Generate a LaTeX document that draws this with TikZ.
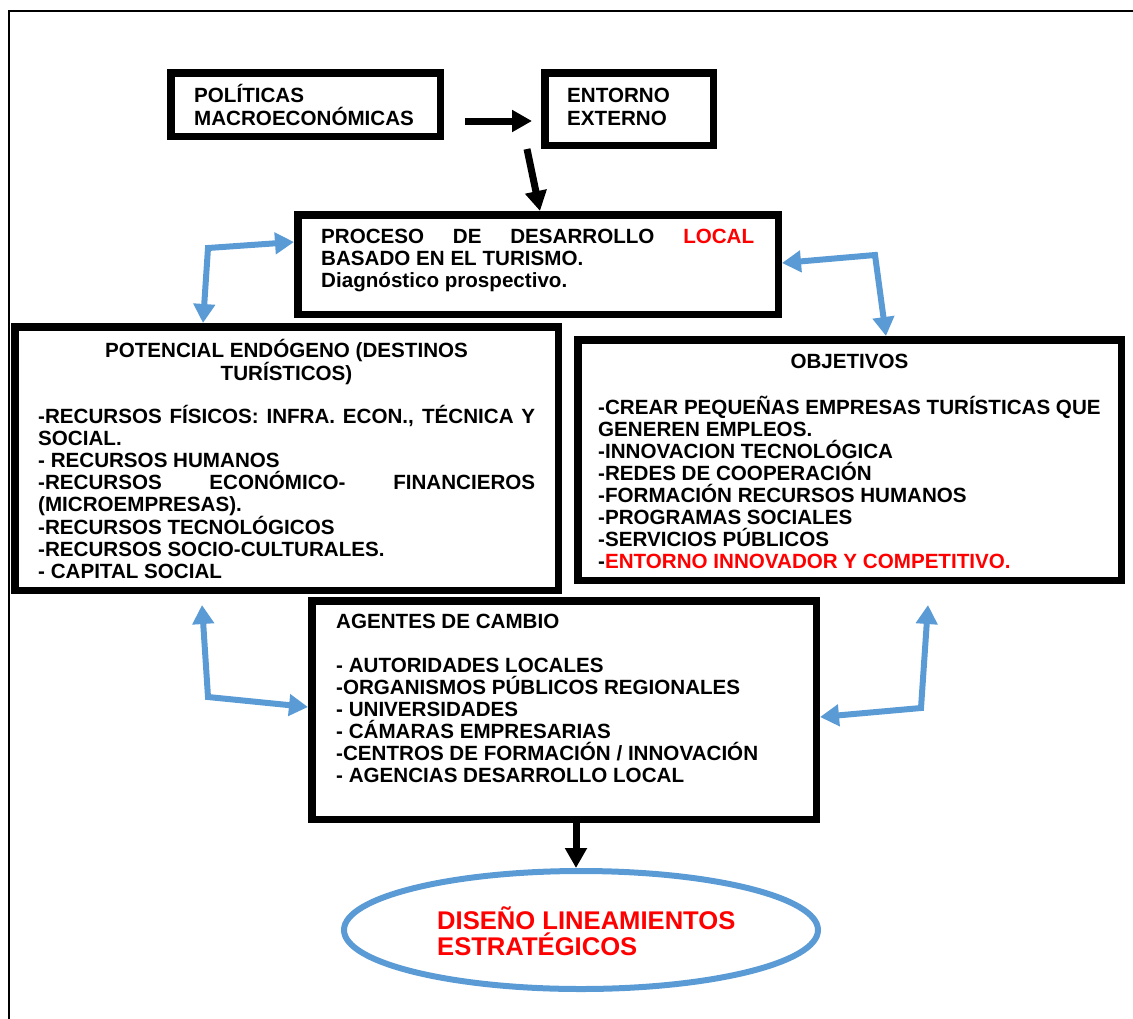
\documentclass[tikz,border=0pt]{standalone}
\usepackage{fontspec}
\setmainfont{Liberation Sans}
\usetikzlibrary{arrows.meta,shapes.geometric}
\definecolor{bblue}{HTML}{5B9BD5}
\definecolor{tred}{HTML}{FF0000}
\hyphenpenalty=10000
\exhyphenpenalty=10000
\tolerance=10000
\newcommand{\fl}{\rule{0pt}{20pt}}
\begin{document}
\begin{tikzpicture}[x=1pt,y=-1pt,
  box/.style={draw, line width=7.5pt, inner sep=0pt, anchor=north west},
  txt/.style={inner sep=0pt, anchor=north west, align=left,
    font=\bfseries\fontsize{20.6}{22}\selectfont},
  ttl/.style={inner sep=0pt, anchor=north, align=center,
    font=\bfseries\fontsize{20.6}{22}\selectfont},
  barr/.style={line width=7pt, -{Triangle[length=20pt,width=21pt]}},
  blarr/.style={draw=bblue, line width=6pt, line join=miter,
    {Triangle[length=19pt,width=21pt]}-{Triangle[length=19pt,width=21pt]}},
]
\useasboundingbox (0,0) rectangle (1133,1018);
% outer frame
\draw[line width=1.5pt] (9,1030) -- (9,11) -- (1140,11);

% boxes
\node[box, minimum width=269.5pt, minimum height=63.5pt] (pol) at (167,69) {};
\node[box, minimum width=168.5pt, minimum height=72.5pt] (ent) at (541,69) {};
\node[box, minimum width=480.5pt, minimum height=99.5pt] (pro) at (294,211) {};
\node[box, minimum width=543.5pt, minimum height=263.5pt] (pot) at (11,323) {};
\node[box, minimum width=543.5pt, minimum height=240.5pt] (obj) at (574,336) {};
\node[box, minimum width=504.5pt, minimum height=218.5pt] (age) at (308,597) {};
\node[draw=bblue, line width=6pt, ellipse, inner sep=0pt,
      minimum width=474pt, minimum height=118pt] (dis) at (581,930) {};

% texts
\node[txt, font=\bfseries\fontsize{20.6}{23}\selectfont] (tpol) at (194,82)
  {\fl POLÍTICAS\\MACROECONÓMICAS};
\node[txt, font=\bfseries\fontsize{20.6}{23}\selectfont] (tent) at (567,82)
  {\fl ENTORNO\\EXTERNO};
\node[txt, text width=433pt, align=justify] (tpro) at (321,223)
  {\fl PROCESO DE DESARROLLO {\color{tred}LOCAL}\linebreak BASADO EN EL TURISMO.\\
   Diagnóstico prospectivo.};
\node[ttl] (tpott) at (286.5,337)
  {\fl POTENCIAL ENDÓGENO (DESTINOS\\TURÍSTICOS)};
\node[txt, text width=497pt, align=justify] (tpot) at (38,403)
  {\fl -RECURSOS FÍSICOS: INFRA. ECON., TÉCNICA Y\linebreak SOCIAL.\\
   - RECURSOS HUMANOS\\
   -RECURSOS ECONÓMICO- FINANCIEROS\linebreak (MICROEMPRESAS).\\
   -RECURSOS TECNOLÓGICOS\\
   -RECURSOS SOCIO-CULTURALES.\\
   - CAPITAL SOCIAL};
\node[ttl] (tobjt) at (849.5,348) {\fl OBJETIVOS};
\node[txt] (tobj) at (598,394)
  {\fl -CREAR PEQUEÑAS EMPRESAS TURÍSTICAS QUE\\
   GENEREN EMPLEOS.\\
   -INNOVACION TECNOLÓGICA\\
   -REDES DE COOPERACIÓN\\
   -FORMACIÓN RECURSOS HUMANOS\\
   -PROGRAMAS SOCIALES\\
   -SERVICIOS PÚBLICOS\\
   -{\color{tred}ENTORNO INNOVADOR Y COMPETITIVO.}};
\node[txt] (taget) at (336,608) {\fl AGENTES DE CAMBIO};
\node[txt] (tage) at (336,652)
  {\fl - AUTORIDADES LOCALES\\
   -ORGANISMOS PÚBLICOS REGIONALES\\
   - UNIVERSIDADES\\
   - CÁMARAS EMPRESARIAS\\
   -CENTROS DE FORMACIÓN / INNOVACIÓN\\
   - AGENCIAS DESARROLLO LOCAL};
\node[txt, text=tred, font=\bfseries\fontsize{25.6}{26.5}\selectfont] (tdis) at (437,906)
  {\rule{0pt}{23pt}DISEÑO LINEAMIENTOS\\ESTRATÉGICOS};

% black arrows
\draw[barr, shorten <=21pt, shorten >=9pt] (pol.east |- 0,121) -- (ent.west |- 0,121);
\draw[barr] (ent.south -| 527,0) -- (pro.north -| 540,0);
\draw[barr] (age.south -| 576,0) -- (dis.north -| 576,0);

% blue arrows
\coordinate (ca) at (208,248);
\coordinate (cb) at (875,255);
\coordinate (cc) at (208,697);
\coordinate (cd) at (921,708);
\coordinate (tc) at (202,605);
\coordinate (td) at (928,605);
\draw[blarr] (pot.north -| 203,0) -- (ca) -- (pro.west |- 0,242);
\draw[blarr] (pro.east |- 0,263) -- (cb) -- (obj.north -| 886,0);
\draw[blarr] (tc) -- (cc) -- (age.west |- 0,707);
\draw[blarr] (age.east |- 0,717) -- (cd) -- (td);
\end{tikzpicture}
\end{document}
